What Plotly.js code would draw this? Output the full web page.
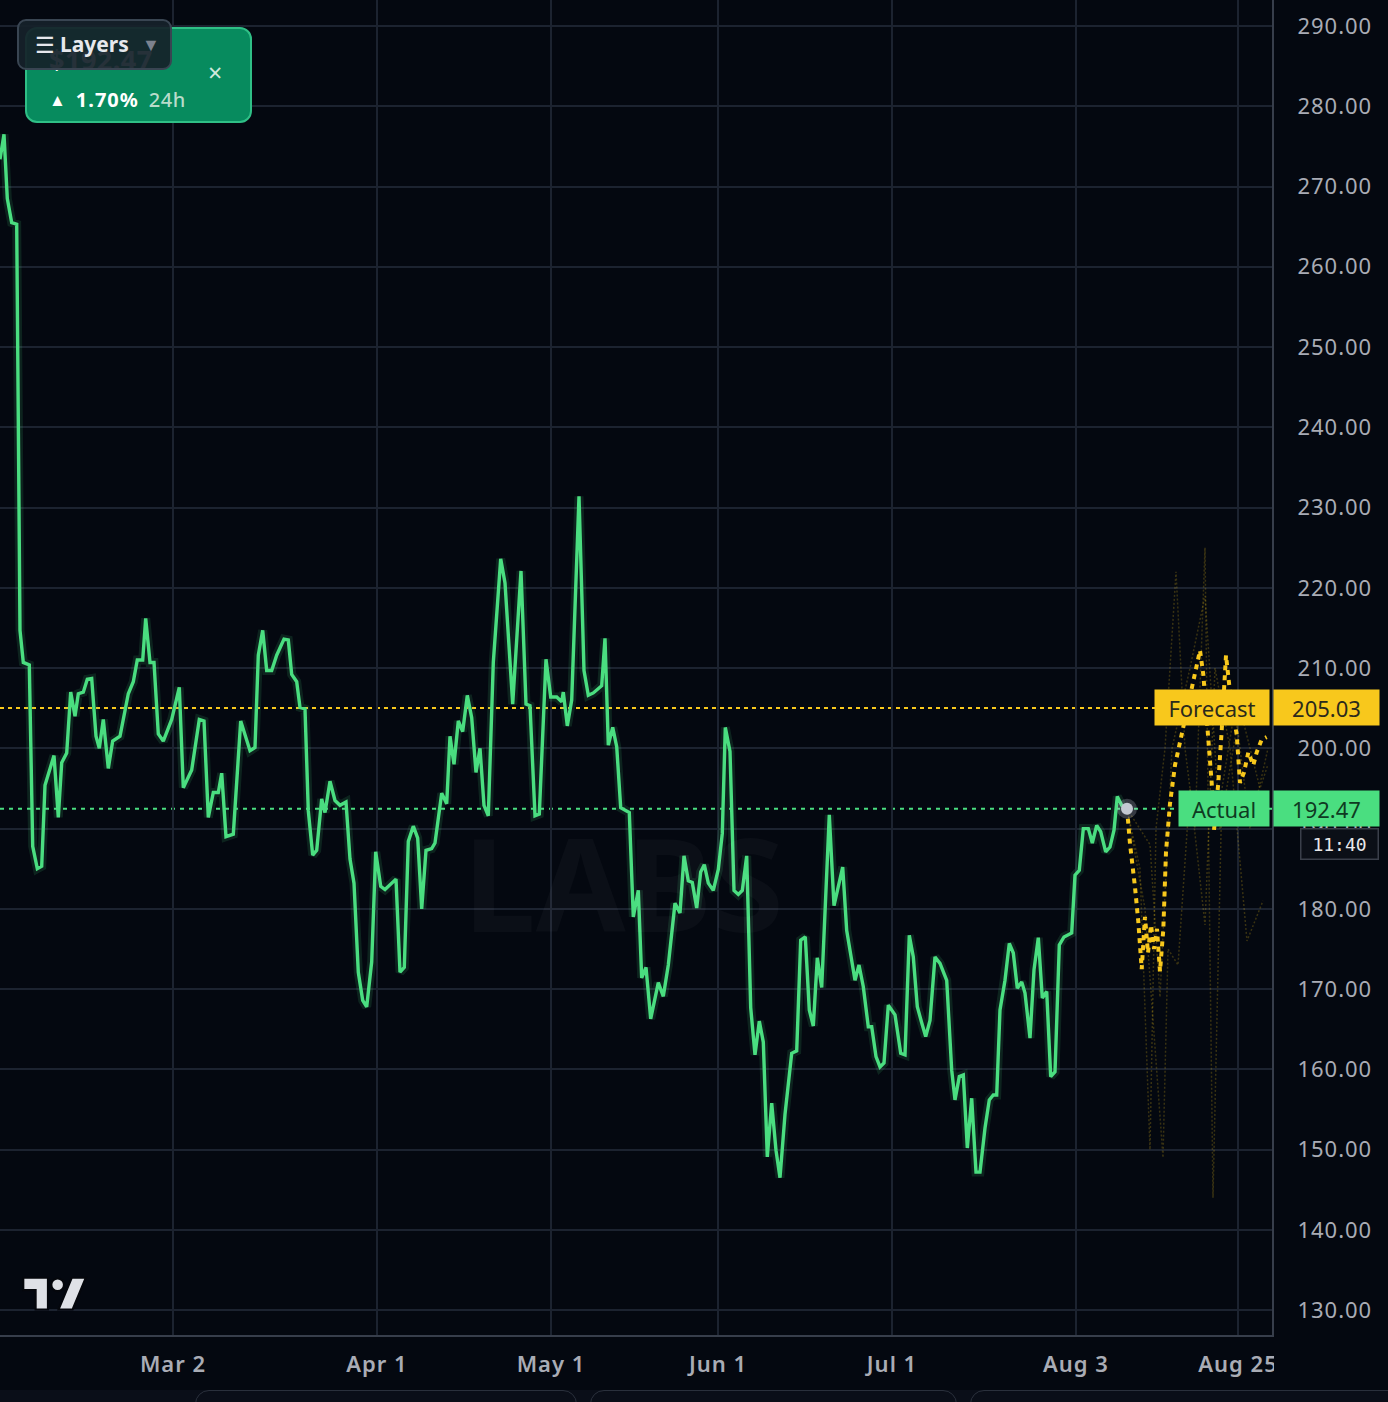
<!DOCTYPE html>
<html>
<head>
<meta charset="utf-8">
<script src="https://cdn.plot.ly/plotly-3.0.1.min.js"></script>
<style>
  html, body { margin:0; padding:0; background:#040810; }
  #wrap { position:relative; width:1388px; height:1402px; overflow:hidden; background:#040810; font-family:"Noto Sans", "Open Sans", sans-serif; }
  #chart { position:absolute; left:0; top:0; width:1388px; height:1402px; }
  #chart .xtick text, #chart .ytick text { letter-spacing: 1px; }
  .clip { position:absolute; left:1274px; top:1337px; width:114px; height:53px; background:#040810; }
  .card { position:absolute; left:25px; top:27px; width:223px; height:92px; border-radius:12px; background:#078b5e; border:2px solid #2fbf86; }
  .card .price { position:absolute; left:22px; top:12px; font-size:27px; font-weight:700; color:#ffffff; letter-spacing:0.5px; }
  .card .close { position:absolute; left:181px; top:31px; font-size:25px; color:#cde9dc; line-height:1; }
  .card .chg { position:absolute; left:22px; top:57px; font-size:20px; color:#ffffff; font-weight:700; white-space:nowrap; letter-spacing:1px; }
  .card .chg .tri { font-size:17px; margin-right:9px; position:relative; top:-1px; }
  .card .chg .per { color:#b8dccb; font-weight:500; margin-left:10px; letter-spacing:0.5px; }
  .layers { position:absolute; left:17px; top:19px; width:151px; height:47px; border-radius:9px; background:rgba(22,33,42,0.93); border:2px solid #394552; color:#e6e8ec; font-size:21px; font-weight:700; white-space:nowrap; }
  .layers .ic { position:absolute; left:16px; top:8px; font-weight:400; font-size:22px; }
  .layers .tx { position:absolute; left:41px; top:9px; }
  .layers .dd { position:absolute; left:123px; top:11px; font-size:18px; color:#7c828e; }
  .tvlogo { position:absolute; left:20px; top:1276px; width:70px; height:37px; }
  .strip { position:absolute; left:0; top:1390px; width:1388px; height:12px; background:#0a0e18; }
  .strip .box { position:absolute; top:0; height:30px; border:1px solid #2a303c; border-radius:14px; }
</style>
</head>
<body>
<div id="wrap">
  <div id="chart"></div>
  <div class="clip"></div>
  <div class="card">
    <div class="price">$192.47</div>
    <div class="close">×</div>
    <div class="chg"><span class="tri">▲</span>1.70%<span class="per">24h</span></div>
  </div>
  <div class="layers"><span class="ic">☰</span><span class="tx">Layers</span><span class="dd">▼</span></div>
  <svg class="tvlogo" viewBox="-1 3 38 21" xmlns="http://www.w3.org/2000/svg">
    <g fill="#dfe1e6" stroke="#05070c" stroke-width="1.2">
      <path d="M14 22H7V11H0V4h14v18z"/>
      <path d="M28 22h-8l7.5-18h8L28 22z"/>
      <circle cx="19.5" cy="8" r="3.6"/>
    </g>
  </svg>
  <div class="strip">
    <div class="box" style="left:195px;width:380px;"></div>
    <div class="box" style="left:590px;width:365px;"></div>
    <div class="box" style="left:970px;width:430px;"></div>
  </div>
</div>
<script>
// ---- Data (x = bar position index along the time axis) ----
const tickIdx = [173, 377, 551, 718, 892, 1076, 1238];
const tickLabels = ["Mar 2", "Apr 1", "May 1", "Jun 1", "Jul 1", "Aug 3", "Aug 25"];

const actualIdx = [0,4,7.3,11.7,16.7,20,23.3,29.3,32.7,37.3,41.7,45,54,58.3,61.7,66.7,70.7,75,78.3,83.3,87.3,91.7,96,99.3,103.3,108.3,112.7,120,128.3,133.3,137.3,142.7,145.7,150,154,158.3,163.3,171.7,179.3,183.3,191.7,199.3,204,208.3,213.3,218.3,221.7,226,233.3,240.7,250,255,258.3,262.7,266.7,271.7,276.7,284,288.3,291.7,296.7,300,305,308.3,312.7,316.7,321.7,325,330,335,340,346,350,354,358.3,362.7,366.7,371.7,375.7,380.7,385,390,396,400,404.3,408.3,413.3,417.7,421.7,426,431.7,435,441.7,446.7,450,454,458.3,462.7,467.3,471.7,476,480,484,488.3,493.3,500.7,505,512.7,516.7,521,526,530,535,539.3,546,550.7,556.7,561.7,563.3,567.3,571.7,579,584,588.3,593.3,601.7,605,608.3,612.7,616.7,620.7,629.3,633.3,638.3,641.7,646,650.7,658.3,663.3,668.3,675,680,684,688.3,692.3,696.7,700.7,704.3,708.3,713.3,718.3,722.3,725.3,730,734,738.3,742.3,746.7,750.7,755,759.3,763.3,767.3,771.7,776,780,785,791.7,796.7,800.7,805.3,809.3,813.3,817.3,821.7,829.3,834,842.7,846.7,855,859,863.3,868.3,871.7,876,880,884,888.3,895,900.7,905,909.3,913.3,917.3,921.7,925.7,930,935,940,946.7,951.7,955,959.3,963.3,967.3,971.7,976,980,985,989.3,993.3,996.7,1000,1005,1009.3,1013.3,1017.3,1021.7,1025,1030,1034,1038.3,1042.3,1046.7,1050.7,1055,1059.3,1064,1071.7,1075,1079.3,1083.3,1088.3,1092.3,1096.7,1100.7,1105.7,1110,1114,1117.3,1121.7,1127];
const actualPrice = [273.4,276.5,268.5,265.5,265.3,214.7,210.7,210.4,187.8,185.0,185.3,195.4,199.1,191.4,198.2,199.4,207.0,204.0,206.8,207.0,208.6,208.7,201.5,200.0,203.6,197.5,200.9,201.5,206.8,208.3,211.0,211.0,216.2,210.7,210.7,201.8,200.9,203.6,207.6,195.1,197.3,203.6,203.4,191.4,194.5,194.5,196.9,189.0,189.3,203.4,199.7,200.1,211.6,214.7,209.7,209.7,211.6,213.6,213.5,209.2,208.3,205.1,204.9,192.2,186.7,187.3,193.7,192.0,195.9,193.5,192.9,193.3,186.2,183.2,172.1,168.6,167.8,173.4,187.1,182.8,182.4,183.0,183.7,172.1,172.7,188.4,190.3,188.8,180.0,187.3,187.5,188.2,194.4,193.1,201.5,198.0,203.4,202.1,206.6,203.8,197.0,200.0,192.9,191.6,210.7,223.6,220.6,205.5,213.3,222.1,205.5,205.3,191.6,191.8,211.1,206.4,206.4,205.8,207.0,202.8,206.0,231.4,209.7,206.6,206.9,207.8,213.7,200.4,202.6,200.2,192.6,192.0,179.0,182.3,171.4,172.7,166.3,170.8,169.1,173.0,180.7,179.5,186.6,183.5,183.3,180.1,184.6,185.5,183.2,182.3,184.9,189.4,202.6,199.6,182.3,181.8,182.3,186.6,167.7,161.8,166.0,163.4,149.1,155.8,149.9,146.5,154.4,162.0,162.3,176.1,176.5,167.4,165.4,173.9,170.2,191.7,180.4,185.2,177.3,171.1,173.0,170.3,165.3,165.3,161.6,160.3,160.8,168.0,166.8,162.0,161.8,176.7,174.0,167.8,165.8,164.1,166.1,174.0,173.2,171.1,159.9,156.2,159.1,159.3,150.2,156.4,147.2,147.2,152.7,156.2,156.8,156.8,167.4,171.1,175.7,174.5,170.1,170.9,169.5,163.9,172.4,176.4,168.9,169.7,159.1,159.7,175.5,176.5,177.0,184.2,184.8,190.0,190.0,188.2,190.4,189.6,187.1,187.7,189.8,194.0,192.9,192.47];

const forecastIdx = [1127,1130,1135,1138.3,1141.7,1145,1148,1151,1154,1157,1160,1163.3,1166,1170,1175,1181.7,1190,1196.7,1200,1203.3,1206.7,1211.7,1214,1218.3,1221.7,1224,1226,1230,1236.7,1240,1244,1248.3,1253.3,1256.7,1261.7,1266.7];
const forecastPrice = [192.47,188.1,182.7,178.4,172.5,179.0,174.5,178.0,175.0,177.5,172.2,177.4,187.1,193.1,197.9,201.7,206.6,210.3,212.2,209.2,203.3,195.7,189.8,195.7,202.2,208.7,211.6,207.0,201.7,195.7,197.0,199.5,197.9,199.5,201.1,201.4];

// faint ensemble paths
const ensA_Idx = [1127,1140,1150,1156,1165,1176,1185,1195,1205,1213,1222,1235,1250,1268];
const ensA_Val = [192.47,185,150,190,200,222,200,190,225,144,195,205,190,200];
const ensB_Idx = [1127,1145,1163,1168,1178,1190,1205,1215,1230,1247,1263];
const ensB_Val = [192.47,180,149,175,173,195,178,210,200,176,181];
const ensC_Idx = [1127,1150,1160,1172,1190,1205,1220,1240,1260,1268];
const ensC_Val = [192.47,188,169,200,210,219,190,205,195,198];

const forecastLevel = 205.03;
const actualLevel = 192.47;
const forecastText = "Forecast";
const actualText = "Actual";
const timerText = "11:40";

const GREEN = "#4ade80";
const YELLOW = "#f8c81c";
const BG = "#040810";

const traces = [
  {x: ensA_Idx, y: ensA_Val, mode: "lines", line: {color: "rgba(248,200,28,0.22)", width: 1.5, dash: "2px,2px"}},
  {x: ensB_Idx, y: ensB_Val, mode: "lines", line: {color: "rgba(248,200,28,0.22)", width: 1.5, dash: "2px,2px"}},
  {x: ensC_Idx, y: ensC_Val, mode: "lines", line: {color: "rgba(248,200,28,0.22)", width: 1.5, dash: "2px,2px"}},
  {x: actualIdx, y: actualPrice, mode: "lines", line: {color: "rgba(74,222,128,0.13)", width: 9}},
  {x: actualIdx, y: actualPrice, mode: "lines", line: {color: GREEN, width: 3.4}},
  {x: forecastIdx, y: forecastPrice, mode: "lines", line: {color: YELLOW, width: 4, dash: "5px,5px"}},
  {x: [actualIdx[actualIdx.length-1]], y: [actualLevel], mode: "markers", marker: {size: 20, color: "rgba(200,204,214,0.25)"}},
  {x: [actualIdx[actualIdx.length-1]], y: [actualLevel], mode: "markers", marker: {size: 12, color: "#c4c8d2"}}
];

const layout = {
  width: 1388, height: 1402,
  margin: {l: 0, r: 116, t: 0, b: 67},
  paper_bgcolor: BG, plot_bgcolor: BG,
  showlegend: false,
  hovermode: false,
  font: {family: "Noto Sans, Open Sans, sans-serif", color: "#a9acb5"},
  xaxis: {
    range: [0, 1272], tickmode: "array", tickvals: tickIdx, ticktext: tickLabels,
    showgrid: true, gridcolor: "#1c2330", gridwidth: 2, zeroline: false,
    showline: true, linecolor: "#373e4b", linewidth: 2,
    ticks: "", ticklabelstandoff: 9,
    tickfont: {size: 22, color: "#a9acb5", family: "Noto Sans, sans-serif", weight: 600}
  },
  yaxis: {
    side: "right", range: [126.9, 293.24], tick0: 130, dtick: 10, tickformat: ".2f",
    showgrid: true, gridcolor: "#1c2330", gridwidth: 2, zeroline: false,
    showline: true, linecolor: "#373e4b", linewidth: 2,
    ticks: "", ticklabelstandoff: 19,
    tickfont: {size: 22, color: "#a9acb5", family: "Noto Sans, sans-serif"}
  },
  shapes: [
    {type: "line", xref: "paper", x0: 0, x1: 1, yref: "y", y0: forecastLevel, y1: forecastLevel, line: {color: YELLOW, width: 2, dash: "4px,4px"}, layer: "below"},
    {type: "line", xref: "paper", x0: 0, x1: 1, yref: "y", y0: actualLevel, y1: actualLevel, line: {color: GREEN, width: 2, dash: "4px,5px"}, layer: "below"}
  ],
  annotations: [
    {text: "LABS", xref: "paper", yref: "paper", x: 0.49, y: 0.34, showarrow: false, font: {size: 130, color: "rgba(255,255,255,0.03)", family: "Noto Sans, sans-serif", weight: 700}},
    {text: forecastText, xref: "paper", x: 1154/1272, xanchor: "left", yref: "y", y: forecastLevel, yanchor: "middle", showarrow: false,
     bgcolor: YELLOW, width: 110, height: 31, borderpad: 2, font: {size: 22, color: "#2b2a1c", family: "Noto Sans, sans-serif"}},
    {text: forecastLevel.toFixed(2), xref: "paper", x: 1.0, xanchor: "left", xshift: 1, yref: "y", y: forecastLevel, yanchor: "middle", showarrow: false,
     bgcolor: YELLOW, width: 101, height: 31, borderpad: 2, align: "center", font: {size: 22, color: "#2b2a1c", family: "Noto Sans, sans-serif"}},
    {text: actualText, xref: "paper", x: 1178/1272, xanchor: "left", yref: "y", y: actualLevel, yanchor: "middle", showarrow: false,
     bgcolor: GREEN, width: 86, height: 31, borderpad: 2, font: {size: 22, color: "#0f3a22", family: "Noto Sans, sans-serif"}},
    {text: actualLevel.toFixed(2), xref: "paper", x: 1.0, xanchor: "left", xshift: 1, yref: "y", y: actualLevel, yanchor: "middle", showarrow: false,
     bgcolor: GREEN, width: 101, height: 31, borderpad: 2, align: "center", font: {size: 22, color: "#0f3a22", family: "Noto Sans, sans-serif"}},
    {text: timerText, xref: "paper", x: 1.0, xanchor: "left", xshift: 28, yref: "y", y: actualLevel, yanchor: "top", yshift: -19, showarrow: false,
     bgcolor: "#0b0f17", bordercolor: "#3a3f4a", borderwidth: 1.5, borderpad: 3, width: 70, height: 23,
     font: {size: 18, color: "#e8e8ea", family: "DejaVu Sans Mono, monospace"}}
  ]
};

Plotly.newPlot("chart", traces, layout, {staticPlot: true, displayModeBar: false});
</script>
</body>
</html>
